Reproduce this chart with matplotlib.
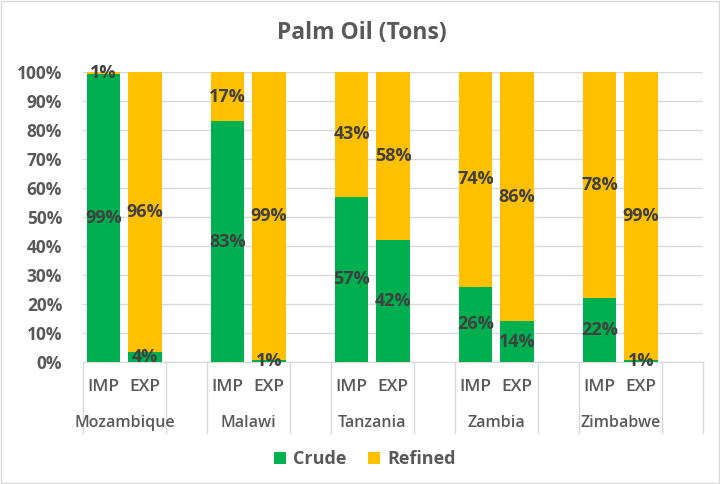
import matplotlib.pyplot as plt
import matplotlib.transforms as mtransforms
from matplotlib.patches import Rectangle

plt.rcParams['font.family'] = ['Open Sans', 'DejaVu Sans']

# data (share of tons, %)
countries = ['Mozambique', 'Malawi', 'Tanzania', 'Zambia', 'Zimbabwe']
flows = ['IMP', 'EXP']
crude_imp = [99.3, 83, 57, 26, 22]
crude_exp = [3.6, 0.6, 42, 14, 0.8]
refined_imp = [0.7, 17, 43, 74, 78]
refined_exp = [96.4, 99.4, 58, 86, 99.2]

GREEN = '#00B050'
YELLOW = '#FFC000'
TXT = '#595959'
LBL = '#404040'
GRID = '#D9D9D9'

fig = plt.figure(figsize=(7.2, 4.84), dpi=100)
ax = fig.add_axes([83 / 720, 1 - 362 / 484, 620 / 720, 290 / 484])

# build slots: IMP, EXP, blank for each country
xs, crude, refined = [], [], []
for i in range(len(countries)):
    xs += [3 * i, 3 * i + 1]
    crude += [crude_imp[i], crude_exp[i]]
    refined += [refined_imp[i], refined_exp[i]]

w = 0.8
ax.bar(xs, crude, width=w, color=GREEN, zorder=3, label='Crude')
ax.bar(xs, refined, width=w, bottom=crude, color=YELLOW, zorder=3, label='Refined')

for x, c, r in zip(xs, crude, refined):
    ax.text(x, c / 2, f'{round(c):.0f}%', ha='center', va='center',
            fontsize=13, fontweight='bold', color=LBL, zorder=4)
    ax.text(x, c + r / 2, f'{round(r):.0f}%', ha='center', va='center',
            fontsize=13, fontweight='bold', color=LBL, zorder=4)

ax.set_xlim(-0.5, 14.5)
ax.set_ylim(0, 100)
ax.set_yticks(range(0, 101, 10))
ax.set_yticklabels([f'{v}%' for v in range(0, 101, 10)], fontsize=12.5,
                   fontweight='bold', color=TXT)
ax.tick_params(axis='y', length=0, pad=15)
ax.set_xticks([])
ax.grid(axis='y', color=GRID, linewidth=1, zorder=0)
for s in ['top', 'right', 'left']:
    ax.spines[s].set_visible(False)
ax.spines['bottom'].set_color(GRID)
ax.spines['bottom'].set_zorder(2)

# two level category axis
trans = mtransforms.blended_transform_factory(ax.transData, ax.transAxes)
for x in xs:
    ax.text(x, -0.086, flows[x % 3], transform=trans, ha='center', va='center',
            fontsize=12.5, fontweight='semibold', color=TXT)
for i, name in enumerate(countries):
    ax.text(3 * i + 0.5, -0.21, name, transform=trans, ha='center', va='center',
            fontsize=11.5, fontweight='semibold', color=TXT)
seps = [-0.5] + [b for i in range(len(countries)) for b in (3 * i + 1.5, 3 * i + 2.5)]
for b in seps:
    ax.plot([b, b], [0, -0.245], transform=trans, color=GRID, linewidth=1,
            clip_on=False)

fig.text(362 / 720, 1 - 33 / 484, 'Palm Oil (Tons)', ha='center', va='center',
         fontsize=16.5, fontweight='bold', color=TXT)

leg = fig.legend(loc='center', bbox_to_anchor=(365 / 720, 1 - 459 / 484), ncol=2,
                 frameon=False, fontsize=13, handlelength=0.65, handleheight=0.65,
                 handletextpad=0.4, columnspacing=1.2)
for t in leg.get_texts():
    t.set_color(TXT)
    t.set_fontweight('bold')

fig.patches.append(Rectangle((0.002, 0.003), 0.996, 0.994, transform=fig.transFigure,
                             fill=False, edgecolor=GRID, linewidth=1))

fig.savefig('out.png', dpi=100, facecolor='white')
